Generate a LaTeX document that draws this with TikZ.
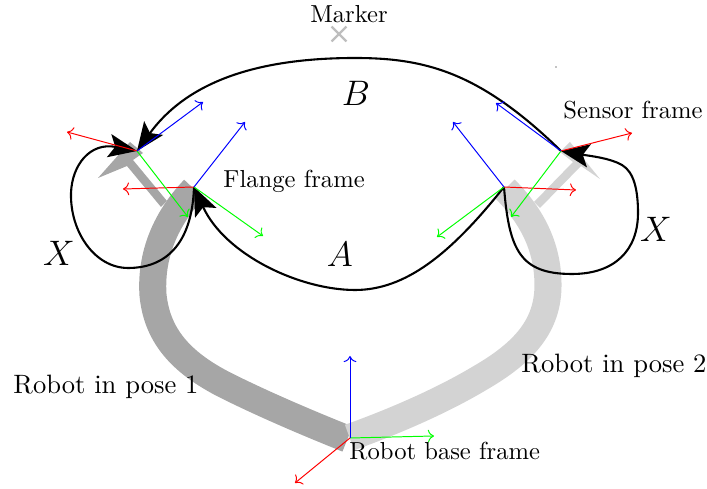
\documentclass[tikz,border=0pt]{standalone}
\usepackage{xcolor}
\usepackage{tikz}
\usetikzlibrary{arrows.meta,positioning,calc,shapes.misc}
\definecolor{poseone}{HTML}{A6A6A6}
\definecolor{posetwo}{HTML}{D3D3D3}
\definecolor{toolgray}{HTML}{BEBEBE}
\definecolor{axisgreen}{HTML}{00FF00}
\tikzset{link/.style={line width=11pt},
  transform/.style={-{Stealth[length=11.5pt,width=9.5pt,inset=2.5pt]},line width=.85pt,black},
  xaxis/.style={->,red},
  yaxis/.style={->,axisgreen},
  zaxis/.style={->,blue},
  lbl/.style={inner sep=0pt,anchor=west},
  poselbl/.style={lbl,font=\fontsize{10.8}{13}\selectfont},
  symbol/.style={inner sep=0pt,font=\Large}}

\begin{document}
\begin{tikzpicture}[x=.4065pt,y=-.4065pt]
\useasboundingbox (0,0) rectangle (707,489);
% frames
\coordinate (base) at (350,438);
\coordinate (flangeL) at (194,187);
\coordinate (sensorL) at (137,151);
\coordinate (flangeR) at (504,187);
\coordinate (sensorR) at (561,151);
% robot links
\draw[link,poseone] (194,189) .. controls (170,214) and (150,250) .. (153,295) .. controls (157,335) and (180,362) .. (225,385) .. controls (265,405) and (310,424) .. (347.5,439);
\fill[poseone] (130,142)--(98,178)--(127,166)--(161,207)--(167,201)--(133,160)--(143,153)--cycle;
\draw[link,posetwo] (349.5,437.5) .. controls (390,423) and (440,402) .. (480,378) .. controls (525,352) and (548,325) .. (548,285) .. controls (548,245) and (530,214) .. (505,189);
\fill[posetwo] (570,142)--(600,179)--(581,166)--(540,208)--(534,202)--(573,162)--(560,152)--cycle;
% marker
\node[cross out,draw=toolgray,line width=1pt,minimum size=5pt,inner sep=0pt] (marker) at (339,34) {};
\fill (556,67) circle (.25pt);
% transforms
\draw[transform] (sensorR) .. controls (480,72) and (425,58) .. (355,58) .. controls (265,58) and (190,78) .. (sensorL);
\draw[transform] (flangeR) .. controls (450,255) and (405,290) .. (355,290) .. controls (300,290) and (225,255) .. (flangeL);
\draw[transform] (flangeL) .. controls (192,245) and (165,268) .. (128,268) .. controls (95,268) and (70,232) .. (71,193) .. controls (72,165) and (90,142) .. (sensorL);
\draw[transform] (flangeR) .. controls (509,250) and (520,274) .. (572,274) .. controls (615,274) and (638,250) .. (638,213) .. controls (638,190) and (634,172) .. (622,165) .. controls (610,158) and (590,156) .. (sensorR);
% base frame
\coordinate (basex) at (295,483);
\coordinate (basey) at (434,436);
\coordinate (basez) at (350,356);
\draw[xaxis] (base)--(basex);
\draw[yaxis] (base)--(basey);
\draw[zaxis] (base)--(basez);
% flange frames
\coordinate (flangeLx) at (123,189);
\coordinate (flangeLy) at (263,236);
\coordinate (flangeLz) at (245,122);
\draw[xaxis] (flangeL)--(flangeLx);
\draw[yaxis] (flangeL)--(flangeLy);
\draw[zaxis] (flangeL)--(flangeLz);
\coordinate (flangeRx) at (576,190);
\coordinate (flangeRy) at (437,237);
\coordinate (flangeRz) at (453,122);
\draw[xaxis] (flangeR)--(flangeRx);
\draw[yaxis] (flangeR)--(flangeRy);
\draw[zaxis] (flangeR)--(flangeRz);
% sensor frames
\coordinate (sensorLx) at (67,132);
\coordinate (sensorLy) at (188,217);
\coordinate (sensorLz) at (203,102);
\draw[xaxis] (sensorL)--(sensorLx);
\draw[yaxis] (sensorL)--(sensorLy);
\draw[zaxis] (sensorL)--(sensorLz);
\coordinate (sensorRx) at (632,133);
\coordinate (sensorRy) at (511,217);
\coordinate (sensorRz) at (496,103);
\draw[xaxis] (sensorR)--(sensorRx);
\draw[yaxis] (sensorR)--(sensorRy);
\draw[zaxis] (sensorR)--(sensorRz);
% labels
\node[inner sep=0pt] (markerlbl) at (349,14) {Marker};
\node[symbol] (bsym) at (356,93) {$B$};
\node[symbol] (asym) at (340,254) {$A$};
\node[symbol] (xleft) at (59,253) {$X$};
\node[symbol] (xright) at (656,229) {$X$};
\node[lbl] (flangelbl) at (223,181) {Flange frame};
\node[lbl] (sensorlbl) at (563,110) {Sensor frame};
\node[poselbl] (poseonelbl) at (13,387) {Robot in pose 1};
\node[poselbl] (posetwolbl) at (521,366) {Robot in pose 2};
\node[lbl] (baselbl) at (349,451) {Robot base frame};
\end{tikzpicture}
\end{document}
